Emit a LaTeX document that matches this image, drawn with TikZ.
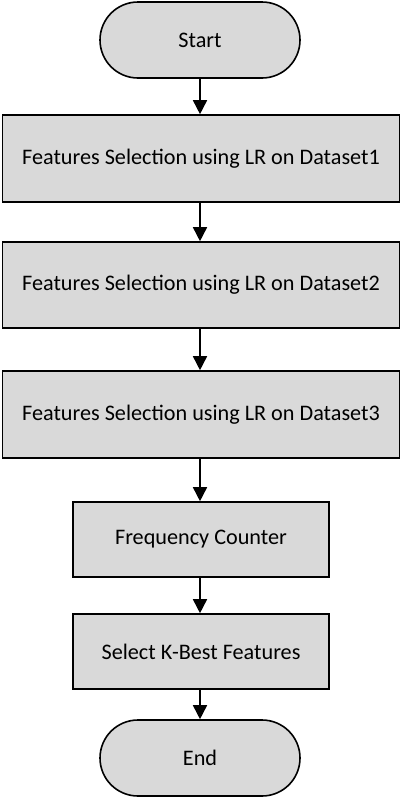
\documentclass[tikz,border=0pt]{standalone}
\usepackage{fontspec}
\setmainfont{Carlito}
\usetikzlibrary{shapes.misc,arrows.meta}
\definecolor{boxgray}{HTML}{D9D9D9}
\tikzset{
  base/.style={draw=black, line width=1.6pt, fill=boxgray, font=\fontsize{22.2}{26}\selectfont, inner sep=0pt},
  procbox/.style={base, rectangle},
  termbox/.style={base, rounded rectangle, minimum width=200pt, minimum height=76pt},
  flow/.style={line width=1.6pt, -{Triangle[width=14pt,length=14pt]}}
}
\begin{document}
\begin{tikzpicture}[x=1pt,y=-1pt]
\useasboundingbox (0,0) rectangle (402,798);
\node[termbox] (start) at (200,40) {Start};
\node[procbox, minimum width=397pt, minimum height=87pt] (d1) at (201,158.5) {Features Selection using LR on Dataset1};
\node[procbox, minimum width=397pt, minimum height=86pt] (d2) at (201,285) {Features Selection using LR on Dataset2};
\node[procbox, minimum width=397pt, minimum height=87pt] (d3) at (201,414.5) {Features Selection using LR on Dataset3};
\node[procbox, minimum width=256pt, minimum height=75pt] (freq) at (201,539.5) {Frequency Counter};
\node[procbox, minimum width=256pt, minimum height=75pt] (sel) at (201,651.5) {Select K-Best Features};
\node[termbox] (end) at (200,758) {End};
\draw[flow] (start.south) -- (start.south |- d1.north);
\draw[flow] (start.south |- d1.south) -- (start.south |- d2.north);
\draw[flow] (start.south |- d2.south) -- (start.south |- d3.north);
\draw[flow] (start.south |- d3.south) -- (start.south |- freq.north);
\draw[flow] (start.south |- freq.south) -- (start.south |- sel.north);
\draw[flow] (start.south |- sel.south) -- (end.north);
\end{tikzpicture}
\end{document}
